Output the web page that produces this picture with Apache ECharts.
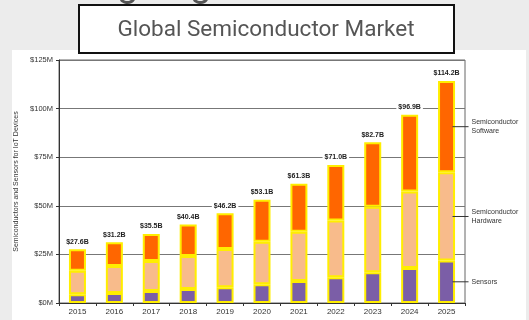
<!DOCTYPE html>
<html><head><meta charset="utf-8">
<script src="https://cdn.jsdelivr.net/npm/echarts@6/dist/echarts.min.js"></script>
<style>html,body{margin:0;padding:0;background:#ececec;}#c{width:529px;height:320px;}</style>
</head><body><div id="c"></div>
<script>
var years = ['2015','2016','2017','2018','2019','2020','2021','2022','2023','2024','2025'];
var totals = [27.6, 31.2, 35.5, 40.4, 46.2, 53.1, 61.3, 71.0, 82.7, 96.9, 114.2];
var sensors = [4.5, 5.1, 6.2, 7.2, 8.1, 9.6, 11.3, 13.2, 15.8, 18.0, 21.8];
var hardware = [12.1, 13.9, 15.4, 17.0, 19.7, 21.9, 25.3, 29.3, 33.7, 39.3, 45.4];
var software = [11.0, 12.2, 13.9, 16.2, 18.4, 21.6, 24.7, 28.5, 33.2, 39.6, 47.0];
var yTickLabels = ['$0M','$25M','$50M','$75M','$100M','$125M'];
var totalLabels = ['$27.6B','$31.2B','$35.5B','$40.4B','$46.2B','$53.1B','$61.3B','$71.0B','$82.7B','$96.9B','$114.2B'];
var seriesNames = ['Sensors','Semiconductor\nHardware','Semiconductor\nSoftware'];

var chart = echarts.init(document.getElementById('c'), null, {renderer:'canvas'});
var font = 'Liberation Sans, Arial, sans-serif';
var border = {borderColor:'#ffee00', borderWidth:2};
var option = {
  animation:false,
  backgroundColor:'#ececec',
  grid:{left:59, right:64, top:60, bottom:17, show:true, borderColor:'#666', borderWidth:1, backgroundColor:'transparent'},
  xAxis:{type:'category', data:years, boundaryGap:true,
    axisLine:{lineStyle:{color:'#333', width:1}},
    axisTick:{show:true, length:3, lineStyle:{color:'#333'}},
    axisLabel:{fontFamily:font, fontSize:8, color:'#333', margin:5}},
  yAxis:{type:'value', min:0, max:125, interval:25,
    name:'Semiconductors and Sensors for IoT Devices', nameLocation:'middle', nameGap:31,
    nameTextStyle:{fontFamily:font, fontSize:7, color:'#333'},
    axisLine:{show:true, lineStyle:{color:'#333', width:1}},
    axisTick:{show:true, length:3, lineStyle:{color:'#333'}},
    splitLine:{lineStyle:{color:'#777', width:1.2}},
    axisLabel:{fontFamily:font, fontSize:7.5, color:'#333', margin:6,
      formatter:function(v){return yTickLabels[Math.round(v/25)];}}},
  series:[
    {name:'Sensors', type:'bar', stack:'t', data:sensors, barWidth:17, itemStyle:Object.assign({color:'#7b5ea7'}, border)},
    {name:'Hardware', type:'bar', stack:'t', data:hardware, barWidth:17, itemStyle:Object.assign({color:'#f8bb8b'}, border)},
    {name:'Software', type:'bar', stack:'t', data:software, barWidth:17, itemStyle:Object.assign({color:'#ff6600'}, border),
      label:{show:true, position:'top', distance:3, fontFamily:font, fontSize:7, fontWeight:'bold', color:'#222',
        backgroundColor:'#fff', padding:[1,2],
        formatter:function(p){return totalLabels[p.dataIndex];}}}
  ]
};
chart.setOption(option);

function buildGraphics(){
  var g = [
    {type:'rect', z:-10, silent:true, shape:{x:12, y:50, width:514, height:280}, style:{fill:'#ffffff'}},
    {type:'text', z:10, style:{x:70, y:5, text:'Ongoing', font:'38px Roboto, sans-serif', fill:'#555', textVerticalAlign:'bottom'}},
    {type:'rect', z:10, shape:{x:79, y:5, width:375, height:48}, style:{fill:'#fff', stroke:'#111', lineWidth:2}},
    {type:'text', z:11, style:{x:266, y:30, text:'Global Semiconductor Market', font:'22.5px Roboto, sans-serif', fill:'#555', textAlign:'center', textVerticalAlign:'middle'}}
  ];
  var last = years.length - 1;
  var stacks = [[0, sensors[last]], [sensors[last], sensors[last]+hardware[last]], [sensors[last]+hardware[last], sensors[last]+hardware[last]+software[last]]];
  for (var i=0;i<3;i++){
    var mid = (stacks[i][0]+stacks[i][1])/2;
    var pt = chart.convertToPixel({gridIndex:0}, [years[last], mid]);
    g.push({type:'line', z:10, shape:{x1:pt[0]+6, y1:pt[1], x2:pt[0]+22, y2:pt[1]}, style:{stroke:'#333', lineWidth:1}});
    g.push({type:'text', z:10, style:{x:pt[0]+25, y:pt[1], text:seriesNames[i], font:'7px Liberation Sans, Arial, sans-serif', fill:'#333', textVerticalAlign:'middle', lineHeight:9}});
  }
  chart.setOption({graphic:g});
}
buildGraphics();
</script></body></html>
